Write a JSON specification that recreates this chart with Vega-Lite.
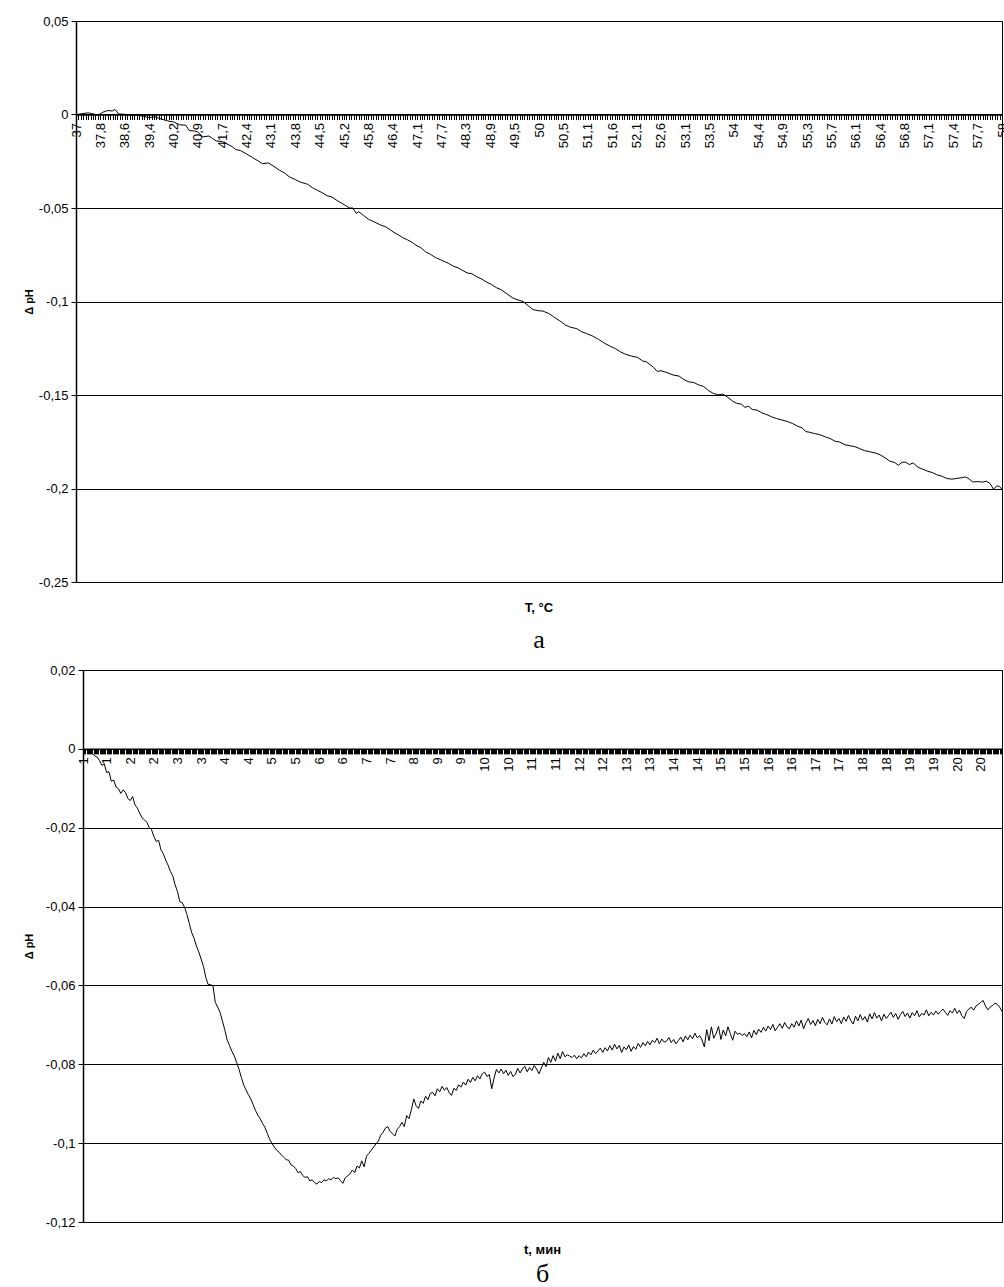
{
  "$schema": "https://vega.github.io/schema/vega-lite/v6.json",
  "padding": {"left": 21, "top": 14, "right": 0, "bottom": 0},
  "background": "white",
  "config": {
    "font": "Liberation Sans",
    "view": {"stroke": "#000", "strokeWidth": 1},
    "axis": {"labelColor": "#000", "titleColor": "#000", "labelFont": "Liberation Sans", "titleFont": "Liberation Sans"}
  },
  "datasets": {
    "none": [],
    "a": [
      {"i":0,"v":0},{"i":0.25,"v":0.0004},{"i":0.5,"v":0.0009},{"i":0.75,"v":0.0002},{"i":0.9,"v":-0.0004},{"i":1.1,"v":0.0012},{"i":1.3,"v":0.0021},{"i":1.5,"v":0.0019},{"i":1.6,"v":0.0027},{"i":1.75,"v":0.0003},
      {"i":2,"v":0.0001},{"i":2.25,"v":-0.0002},{"i":2.5,"v":-0.0004},{"i":2.75,"v":-0.0009},{"i":3,"v":-0.0016},{"i":3.25,"v":-0.0013},{"i":3.5,"v":-0.0024},{"i":3.75,"v":-0.0034},{"i":4,"v":-0.004},{"i":4.25,"v":-0.0055},
      {"i":4.5,"v":-0.0057},{"i":4.65,"v":-0.0086},{"i":4.85,"v":-0.0088},{"i":5,"v":-0.0093},{"i":5.2,"v":-0.012},{"i":5.45,"v":-0.0115},{"i":5.6,"v":-0.0128},{"i":5.75,"v":-0.0141},{"i":6,"v":-0.0145},{"i":6.2,"v":-0.0158},
      {"i":6.4,"v":-0.0171},{"i":6.55,"v":-0.0187},{"i":6.75,"v":-0.0193},{"i":7,"v":-0.0211},{"i":7.25,"v":-0.0231},{"i":7.5,"v":-0.025},{"i":7.65,"v":-0.0263},{"i":7.9,"v":-0.0259},{"i":8.1,"v":-0.0276},{"i":8.35,"v":-0.0298},
      {"i":8.55,"v":-0.0312},{"i":8.75,"v":-0.0333},{"i":9,"v":-0.0348},{"i":9.2,"v":-0.0361},{"i":9.5,"v":-0.0373},{"i":9.7,"v":-0.0391},{"i":9.9,"v":-0.0405},{"i":10.1,"v":-0.0418},{"i":10.3,"v":-0.0434},{"i":10.5,"v":-0.0441},
      {"i":10.7,"v":-0.0459},{"i":10.9,"v":-0.0474},{"i":11.1,"v":-0.049},{"i":11.25,"v":-0.0501},{"i":11.35,"v":-0.0499},{"i":11.5,"v":-0.0529},{"i":11.6,"v":-0.052},{"i":11.8,"v":-0.054},{"i":12,"v":-0.056},{"i":12.25,"v":-0.0575},
      {"i":12.5,"v":-0.0591},{"i":12.7,"v":-0.06},{"i":12.9,"v":-0.0617},{"i":13.05,"v":-0.0631},{"i":13.25,"v":-0.0645},{"i":13.4,"v":-0.0658},{"i":13.6,"v":-0.067},{"i":13.8,"v":-0.0684},{"i":13.95,"v":-0.0699},{"i":14.15,"v":-0.0712},
      {"i":14.35,"v":-0.0735},{"i":14.55,"v":-0.0748},{"i":14.75,"v":-0.0765},{"i":15,"v":-0.0779},{"i":15.3,"v":-0.0797},{"i":15.5,"v":-0.0812},{"i":15.7,"v":-0.0821},{"i":15.85,"v":-0.0833},{"i":16.05,"v":-0.0847},{"i":16.25,"v":-0.0852},
      {"i":16.45,"v":-0.0868},{"i":16.65,"v":-0.088},{"i":16.85,"v":-0.0896},{"i":17.05,"v":-0.0909},{"i":17.25,"v":-0.0926},{"i":17.45,"v":-0.0937},{"i":17.65,"v":-0.0956},{"i":17.9,"v":-0.0979},{"i":18.05,"v":-0.0988},{"i":18.35,"v":-0.1},
      {"i":18.55,"v":-0.1022},{"i":18.75,"v":-0.1043},{"i":18.95,"v":-0.1049},{"i":19.15,"v":-0.1051},{"i":19.4,"v":-0.1064},{"i":19.6,"v":-0.1082},{"i":19.85,"v":-0.1103},{"i":20.1,"v":-0.1127},{"i":20.3,"v":-0.1138},{"i":20.55,"v":-0.1145},
      {"i":20.75,"v":-0.1162},{"i":20.95,"v":-0.1171},{"i":21.2,"v":-0.1185},{"i":21.45,"v":-0.1203},{"i":21.7,"v":-0.1224},{"i":21.95,"v":-0.1241},{"i":22.15,"v":-0.1253},{"i":22.35,"v":-0.127},{"i":22.55,"v":-0.1282},{"i":22.8,"v":-0.1292},
      {"i":23.05,"v":-0.1299},{"i":23.25,"v":-0.1318},{"i":23.4,"v":-0.1322},{"i":23.6,"v":-0.1342},{"i":23.7,"v":-0.1352},{"i":23.85,"v":-0.1374},{"i":24,"v":-0.137},{"i":24.25,"v":-0.138},{"i":24.5,"v":-0.1393},{"i":24.75,"v":-0.1399},
      {"i":24.95,"v":-0.1418},{"i":25.15,"v":-0.143},{"i":25.35,"v":-0.1433},{"i":25.55,"v":-0.1446},{"i":25.75,"v":-0.1454},{"i":25.95,"v":-0.1476},{"i":26.15,"v":-0.1491},{"i":26.35,"v":-0.1499},{"i":26.55,"v":-0.1495},{"i":26.75,"v":-0.1513},
      {"i":26.95,"v":-0.1533},{"i":27.1,"v":-0.1544},{"i":27.3,"v":-0.1549},{"i":27.45,"v":-0.1566},{"i":27.6,"v":-0.156},{"i":27.75,"v":-0.1577},{"i":27.95,"v":-0.1581},{"i":28.15,"v":-0.1596},{"i":28.35,"v":-0.1605},{"i":28.55,"v":-0.1617},
      {"i":28.75,"v":-0.1626},{"i":28.95,"v":-0.1633},{"i":29.2,"v":-0.1642},{"i":29.4,"v":-0.1652},{"i":29.6,"v":-0.1666},{"i":29.8,"v":-0.1676},{"i":29.95,"v":-0.1696},{"i":30.1,"v":-0.1699},{"i":30.3,"v":-0.1706},{"i":30.5,"v":-0.1711},
      {"i":30.75,"v":-0.1724},{"i":30.95,"v":-0.1733},{"i":31.15,"v":-0.1747},{"i":31.35,"v":-0.1752},{"i":31.55,"v":-0.1766},{"i":31.75,"v":-0.1771},{"i":31.95,"v":-0.1776},{"i":32.15,"v":-0.1786},{"i":32.35,"v":-0.1797},{"i":32.55,"v":-0.1803},
      {"i":32.8,"v":-0.181},{"i":33,"v":-0.182},{"i":33.2,"v":-0.1836},{"i":33.4,"v":-0.1854},{"i":33.6,"v":-0.1861},{"i":33.75,"v":-0.1876},{"i":33.9,"v":-0.1859},{"i":34.05,"v":-0.186},{"i":34.2,"v":-0.1872},{"i":34.35,"v":-0.1863},
      {"i":34.55,"v":-0.1886},{"i":34.75,"v":-0.1897},{"i":34.95,"v":-0.1908},{"i":35.15,"v":-0.1915},{"i":35.35,"v":-0.1928},{"i":35.55,"v":-0.1935},{"i":35.75,"v":-0.1947},{"i":35.95,"v":-0.195},{"i":36.15,"v":-0.1946},{"i":36.35,"v":-0.1942},
      {"i":36.5,"v":-0.1938},{"i":36.65,"v":-0.1949},{"i":36.8,"v":-0.1965},{"i":37,"v":-0.1963},{"i":37.2,"v":-0.1966},{"i":37.35,"v":-0.1961},{"i":37.5,"v":-0.1972},{"i":37.65,"v":-0.2004},{"i":37.8,"v":-0.1985},{"i":37.9,"v":-0.199},{"i":38,"v":-0.2004}
    ],
    "b": [
      {"i":0,"v":0},{"i":0.1,"v":-0.0003},{"i":0.2,"v":-0.0002},{"i":0.3,"v":-0.0008},{"i":0.4,"v":-0.0012},{"i":0.5,"v":-0.0018},{"i":0.6,"v":-0.0021},{"i":0.7,"v":-0.003},{"i":0.8,"v":-0.0042},{"i":0.9,"v":-0.0038},
      {"i":1,"v":-0.006},{"i":1.1,"v":-0.0058},{"i":1.2,"v":-0.0082},{"i":1.3,"v":-0.0079},{"i":1.4,"v":-0.0097},{"i":1.5,"v":-0.0101},{"i":1.6,"v":-0.0113},{"i":1.7,"v":-0.0104},{"i":1.8,"v":-0.0111},{"i":1.9,"v":-0.0126},
      {"i":2,"v":-0.0131},{"i":2.1,"v":-0.0121},{"i":2.2,"v":-0.0142},{"i":2.3,"v":-0.015},{"i":2.4,"v":-0.0163},{"i":2.5,"v":-0.0175},{"i":2.6,"v":-0.018},{"i":2.7,"v":-0.0186},{"i":2.8,"v":-0.0199},{"i":2.9,"v":-0.0205},
      {"i":3,"v":-0.0222},{"i":3.1,"v":-0.0235},{"i":3.2,"v":-0.0232},{"i":3.3,"v":-0.0256},{"i":3.4,"v":-0.0266},{"i":3.5,"v":-0.0282},{"i":3.6,"v":-0.0295},{"i":3.7,"v":-0.0311},{"i":3.8,"v":-0.0322},{"i":3.9,"v":-0.0345},
      {"i":4,"v":-0.0362},{"i":4.1,"v":-0.0388},{"i":4.2,"v":-0.039},{"i":4.3,"v":-0.0402},{"i":4.4,"v":-0.042},{"i":4.5,"v":-0.0443},{"i":4.6,"v":-0.0466},{"i":4.7,"v":-0.048},{"i":4.8,"v":-0.05},{"i":4.9,"v":-0.0515},
      {"i":5,"v":-0.0533},{"i":5.1,"v":-0.0552},{"i":5.2,"v":-0.058},{"i":5.3,"v":-0.0598},{"i":5.4,"v":-0.0598},{"i":5.5,"v":-0.0601},{"i":5.6,"v":-0.0643},{"i":5.7,"v":-0.0655},{"i":5.8,"v":-0.0668},{"i":5.9,"v":-0.069},
      {"i":6,"v":-0.0712},{"i":6.1,"v":-0.0738},{"i":6.2,"v":-0.0752},{"i":6.3,"v":-0.0767},{"i":6.4,"v":-0.0778},{"i":6.5,"v":-0.0795},{"i":6.6,"v":-0.0812},{"i":6.7,"v":-0.0833},{"i":6.8,"v":-0.0852},{"i":6.9,"v":-0.0865},
      {"i":7,"v":-0.0877},{"i":7.1,"v":-0.0888},{"i":7.2,"v":-0.0902},{"i":7.3,"v":-0.0917},{"i":7.4,"v":-0.0929},{"i":7.5,"v":-0.0938},{"i":7.6,"v":-0.095},{"i":7.7,"v":-0.096},{"i":7.8,"v":-0.0975},{"i":7.9,"v":-0.099},
      {"i":8,"v":-0.1001},{"i":8.1,"v":-0.101},{"i":8.2,"v":-0.1018},{"i":8.3,"v":-0.1023},{"i":8.4,"v":-0.103},{"i":8.5,"v":-0.1036},{"i":8.6,"v":-0.1042},{"i":8.7,"v":-0.1043},{"i":8.8,"v":-0.1055},{"i":8.9,"v":-0.1058},
      {"i":9,"v":-0.1064},{"i":9.1,"v":-0.1075},{"i":9.2,"v":-0.1072},{"i":9.3,"v":-0.1082},{"i":9.4,"v":-0.1087},{"i":9.5,"v":-0.1085},{"i":9.6,"v":-0.1096},{"i":9.7,"v":-0.1093},{"i":9.8,"v":-0.11},{"i":9.9,"v":-0.1104},
      {"i":10,"v":-0.1097},{"i":10.1,"v":-0.11},{"i":10.2,"v":-0.1093},{"i":10.3,"v":-0.1096},{"i":10.4,"v":-0.109},{"i":10.5,"v":-0.1093},{"i":10.6,"v":-0.1087},{"i":10.7,"v":-0.109},{"i":10.8,"v":-0.1088},{"i":10.9,"v":-0.1095},
      {"i":11,"v":-0.1102},{"i":11.1,"v":-0.1088},{"i":11.2,"v":-0.1083},{"i":11.3,"v":-0.1078},{"i":11.4,"v":-0.1068},{"i":11.5,"v":-0.1075},{"i":11.6,"v":-0.1058},{"i":11.7,"v":-0.1063},{"i":11.8,"v":-0.1045},{"i":11.9,"v":-0.106},
      {"i":12,"v":-0.1033},{"i":12.1,"v":-0.1026},{"i":12.2,"v":-0.1018},{"i":12.3,"v":-0.101},{"i":12.4,"v":-0.1002},{"i":12.5,"v":-0.0995},{"i":12.6,"v":-0.098},{"i":12.7,"v":-0.0973},{"i":12.8,"v":-0.0962},{"i":12.9,"v":-0.0958},
      {"i":13,"v":-0.097},{"i":13.1,"v":-0.0976},{"i":13.2,"v":-0.0982},{"i":13.3,"v":-0.0965},{"i":13.4,"v":-0.0958},{"i":13.5,"v":-0.0947},{"i":13.6,"v":-0.0958},{"i":13.7,"v":-0.093},{"i":13.8,"v":-0.0938},{"i":13.9,"v":-0.0915},
      {"i":14,"v":-0.0888},{"i":14.1,"v":-0.0905},{"i":14.2,"v":-0.0912},{"i":14.3,"v":-0.0893},{"i":14.4,"v":-0.0899},{"i":14.5,"v":-0.0881},{"i":14.6,"v":-0.089},{"i":14.7,"v":-0.0874},{"i":14.8,"v":-0.0871},{"i":14.9,"v":-0.088},
      {"i":15,"v":-0.0862},{"i":15.1,"v":-0.087},{"i":15.2,"v":-0.0856},{"i":15.3,"v":-0.0866},{"i":15.4,"v":-0.0859},{"i":15.5,"v":-0.0872},{"i":15.6,"v":-0.0879},{"i":15.7,"v":-0.0861},{"i":15.8,"v":-0.0866},{"i":15.9,"v":-0.0852},
      {"i":16,"v":-0.0858},{"i":16.1,"v":-0.0845},{"i":16.2,"v":-0.0853},{"i":16.3,"v":-0.0838},{"i":16.4,"v":-0.0846},{"i":16.5,"v":-0.0833},{"i":16.6,"v":-0.0842},{"i":16.7,"v":-0.0829},{"i":16.8,"v":-0.0837},{"i":16.9,"v":-0.0824},
      {"i":17,"v":-0.082},{"i":17.1,"v":-0.0831},{"i":17.2,"v":-0.0826},{"i":17.3,"v":-0.0862},{"i":17.4,"v":-0.0835},{"i":17.5,"v":-0.0813},{"i":17.6,"v":-0.0822},{"i":17.7,"v":-0.0812},{"i":17.8,"v":-0.0824},{"i":17.9,"v":-0.0815},
      {"i":18,"v":-0.0828},{"i":18.1,"v":-0.0818},{"i":18.2,"v":-0.0831},{"i":18.3,"v":-0.0826},{"i":18.4,"v":-0.081},{"i":18.5,"v":-0.0822},{"i":18.6,"v":-0.0812},{"i":18.7,"v":-0.0805},{"i":18.8,"v":-0.0819},{"i":18.9,"v":-0.0808},
      {"i":19,"v":-0.0816},{"i":19.1,"v":-0.0803},{"i":19.2,"v":-0.0812},{"i":19.3,"v":-0.0824},{"i":19.4,"v":-0.081},{"i":19.5,"v":-0.0795},{"i":19.6,"v":-0.0806},{"i":19.7,"v":-0.0783},{"i":19.8,"v":-0.0795},{"i":19.9,"v":-0.0778},
      {"i":20,"v":-0.0792},{"i":20.1,"v":-0.0772},{"i":20.2,"v":-0.0786},{"i":20.3,"v":-0.0768},{"i":20.4,"v":-0.0781},{"i":20.5,"v":-0.0776},{"i":20.6,"v":-0.0779},{"i":20.7,"v":-0.0783},{"i":20.8,"v":-0.0777},{"i":20.9,"v":-0.0786},
      {"i":21,"v":-0.0778},{"i":21.1,"v":-0.0784},{"i":21.2,"v":-0.0773},{"i":21.3,"v":-0.0781},{"i":21.4,"v":-0.0769},{"i":21.5,"v":-0.0776},{"i":21.6,"v":-0.0764},{"i":21.7,"v":-0.0773},{"i":21.8,"v":-0.0766},{"i":21.9,"v":-0.0759},
      {"i":22,"v":-0.077},{"i":22.1,"v":-0.0758},{"i":22.2,"v":-0.0766},{"i":22.3,"v":-0.0753},{"i":22.4,"v":-0.0764},{"i":22.5,"v":-0.0749},{"i":22.6,"v":-0.0761},{"i":22.7,"v":-0.0752},{"i":22.8,"v":-0.077},{"i":22.9,"v":-0.0756},
      {"i":23,"v":-0.0763},{"i":23.1,"v":-0.0751},{"i":23.2,"v":-0.0767},{"i":23.3,"v":-0.0755},{"i":23.4,"v":-0.0762},{"i":23.5,"v":-0.0747},{"i":23.6,"v":-0.0757},{"i":23.7,"v":-0.0745},{"i":23.8,"v":-0.0753},{"i":23.9,"v":-0.0742},
      {"i":24,"v":-0.0751},{"i":24.1,"v":-0.0739},{"i":24.2,"v":-0.0745},{"i":24.3,"v":-0.0734},{"i":24.4,"v":-0.0748},{"i":24.5,"v":-0.0736},{"i":24.6,"v":-0.0744},{"i":24.7,"v":-0.0741},{"i":24.8,"v":-0.0732},{"i":24.9,"v":-0.0745},
      {"i":25,"v":-0.0737},{"i":25.1,"v":-0.0748},{"i":25.2,"v":-0.074},{"i":25.3,"v":-0.0731},{"i":25.4,"v":-0.0743},{"i":25.5,"v":-0.0728},{"i":25.6,"v":-0.0738},{"i":25.7,"v":-0.0726},{"i":25.8,"v":-0.0735},{"i":25.9,"v":-0.0721},
      {"i":26,"v":-0.0733},{"i":26.1,"v":-0.0727},{"i":26.2,"v":-0.0738},{"i":26.3,"v":-0.0756},{"i":26.4,"v":-0.0712},{"i":26.5,"v":-0.074},{"i":26.6,"v":-0.0705},{"i":26.7,"v":-0.0734},{"i":26.8,"v":-0.0722},{"i":26.9,"v":-0.0704},
      {"i":27,"v":-0.0737},{"i":27.1,"v":-0.0713},{"i":27.2,"v":-0.0728},{"i":27.3,"v":-0.0705},{"i":27.4,"v":-0.0722},{"i":27.5,"v":-0.0739},{"i":27.6,"v":-0.0716},{"i":27.7,"v":-0.0724},{"i":27.8,"v":-0.0721},{"i":27.9,"v":-0.0727},
      {"i":28,"v":-0.0722},{"i":28.1,"v":-0.073},{"i":28.2,"v":-0.0718},{"i":28.3,"v":-0.0733},{"i":28.4,"v":-0.0714},{"i":28.5,"v":-0.0725},{"i":28.6,"v":-0.0711},{"i":28.7,"v":-0.0719},{"i":28.8,"v":-0.0706},{"i":28.9,"v":-0.0716},
      {"i":29,"v":-0.0703},{"i":29.1,"v":-0.0712},{"i":29.2,"v":-0.0699},{"i":29.3,"v":-0.0715},{"i":29.4,"v":-0.0706},{"i":29.5,"v":-0.0697},{"i":29.6,"v":-0.0709},{"i":29.7,"v":-0.0694},{"i":29.8,"v":-0.0705},{"i":29.9,"v":-0.071},
      {"i":30,"v":-0.0697},{"i":30.1,"v":-0.0706},{"i":30.2,"v":-0.069},{"i":30.3,"v":-0.0703},{"i":30.4,"v":-0.0688},{"i":30.5,"v":-0.071},{"i":30.6,"v":-0.0695},{"i":30.7,"v":-0.0684},{"i":30.8,"v":-0.0699},{"i":30.9,"v":-0.0689},
      {"i":31,"v":-0.0702},{"i":31.1,"v":-0.0686},{"i":31.2,"v":-0.0697},{"i":31.3,"v":-0.0681},{"i":31.4,"v":-0.0694},{"i":31.5,"v":-0.07},{"i":31.6,"v":-0.0685},{"i":31.7,"v":-0.0698},{"i":31.8,"v":-0.0679},{"i":31.9,"v":-0.0692},
      {"i":32,"v":-0.0684},{"i":32.1,"v":-0.0697},{"i":32.2,"v":-0.068},{"i":32.3,"v":-0.0691},{"i":32.4,"v":-0.0676},{"i":32.5,"v":-0.0689},{"i":32.6,"v":-0.0698},{"i":32.7,"v":-0.0678},{"i":32.8,"v":-0.069},{"i":32.9,"v":-0.0674},
      {"i":33,"v":-0.0688},{"i":33.1,"v":-0.0679},{"i":33.2,"v":-0.0693},{"i":33.3,"v":-0.0672},{"i":33.4,"v":-0.0685},{"i":33.5,"v":-0.0669},{"i":33.6,"v":-0.0683},{"i":33.7,"v":-0.0675},{"i":33.8,"v":-0.069},{"i":33.9,"v":-0.0673},
      {"i":34,"v":-0.0684},{"i":34.1,"v":-0.0676},{"i":34.2,"v":-0.0668},{"i":34.3,"v":-0.0681},{"i":34.4,"v":-0.0671},{"i":34.5,"v":-0.0686},{"i":34.6,"v":-0.0674},{"i":34.7,"v":-0.0666},{"i":34.8,"v":-0.0679},{"i":34.9,"v":-0.067},
      {"i":35,"v":-0.0683},{"i":35.1,"v":-0.0669},{"i":35.2,"v":-0.0677},{"i":35.3,"v":-0.0664},{"i":35.4,"v":-0.068},{"i":35.5,"v":-0.0671},{"i":35.6,"v":-0.0675},{"i":35.7,"v":-0.0662},{"i":35.8,"v":-0.0677},{"i":35.9,"v":-0.0668},
      {"i":36,"v":-0.0675},{"i":36.1,"v":-0.0665},{"i":36.2,"v":-0.0673},{"i":36.3,"v":-0.0666},{"i":36.4,"v":-0.066},{"i":36.5,"v":-0.0668},{"i":36.6,"v":-0.0676},{"i":36.7,"v":-0.0664},{"i":36.8,"v":-0.067},{"i":36.9,"v":-0.0658},
      {"i":37,"v":-0.0671},{"i":37.1,"v":-0.0663},{"i":37.2,"v":-0.0677},{"i":37.3,"v":-0.0684},{"i":37.4,"v":-0.0666},{"i":37.5,"v":-0.066},{"i":37.6,"v":-0.0655},{"i":37.7,"v":-0.0663},{"i":37.8,"v":-0.0652},{"i":37.9,"v":-0.0648},
      {"i":38,"v":-0.0643},{"i":38.1,"v":-0.0638},{"i":38.2,"v":-0.0652},{"i":38.3,"v":-0.0662},{"i":38.4,"v":-0.0655},{"i":38.5,"v":-0.0651},{"i":38.6,"v":-0.0645},{"i":38.7,"v":-0.0648},{"i":38.8,"v":-0.0655},{"i":38.9,"v":-0.0666}
    ]
  },
  "vconcat": [
    {"hconcat": [
      {"width": 1, "height": 1, "data": {"name": "none"}, "view": {"stroke": null}, "mark": "point", "encoding": {}},
      {
        "width": 926,
        "height": 561,
        "data": {"name": "a"},
        "title": {"text": "T, °C", "subtitle": "а", "orient": "bottom", "frame": "group", "anchor": "middle", "font": "Liberation Sans", "fontWeight": "bold", "fontSize": 13, "color": "#000", "subtitleFont": "Liberation Serif", "subtitleFontSize": 26, "subtitleColor": "#000", "offset": 13, "subtitlePadding": 12},
        "mark": {"type": "line", "color": "#000", "strokeWidth": 1, "clip": true},
        "encoding": {
          "x": {"field": "i", "type": "quantitative", "scale": {"domain": [0, 38], "nice": false, "zero": false},
            "axis": {"title": null, "offset": -467.5, "tickCount": 380, "grid": false, "domainColor": "#000", "domainWidth": 1.5, "tickColor": "#000", "tickSize": 5, "tickWidth": 1, "labelAngle": -90, "labelOverlap": false, "labelFontSize": 13, "labelPadding": 3,
              "labelExpr": "(datum.value % 1 === 0) ? ['37','37,8','38,6','39,4','40,2','40,9','41,7','42,4','43,1','43,8','44,5','45,2','45,8','46,4','47,1','47,7','48,3','48,9','49,5','50','50,5','51,1','51,6','52,1','52,6','53,1','53,5','54','54,4','54,9','55,3','55,7','56,1','56,4','56,8','57,1','57,4','57,7','58'][datum.value] : ''"}},
          "y": {"field": "v", "type": "quantitative", "scale": {"domain": [-0.25, 0.05], "nice": false, "zero": false},
            "axis": {"title": "Δ pH", "titleFontSize": 11, "titleFontWeight": "bold", "titlePadding": 4, "values": [0.05, 0, -0.05, -0.1, -0.15, -0.2, -0.25], "grid": true, "gridColor": "#000", "gridOpacity": 1, "gridWidth": 1, "domainColor": "#000", "domainWidth": 1.5, "tickColor": "#000", "tickSize": 5, "labelFontSize": 13, "labelPadding": 3,
              "labelExpr": "replace(toString(datum.value), '.', ',')"}}
        }
      }
    ], "spacing": 0},
    {"hconcat": [
      {"width": 1, "height": 1, "data": {"name": "none"}, "view": {"stroke": null}, "mark": "point", "encoding": {}},
      {
        "width": 919,
        "height": 552,
        "data": {"name": "b"},
        "title": {"text": "t, мин", "subtitle": "б", "orient": "bottom", "frame": "group", "anchor": "middle", "font": "Liberation Sans", "fontWeight": "bold", "fontSize": 13, "color": "#000", "subtitleFont": "Liberation Serif", "subtitleFontSize": 26, "subtitleColor": "#000", "offset": 15, "subtitlePadding": 4},
        "mark": {"type": "line", "color": "#000", "strokeWidth": 1, "clip": true},
        "encoding": {
          "x": {"field": "i", "type": "quantitative", "scale": {"domain": [0, 38.9], "nice": false, "zero": false},
            "axis": {"title": null, "offset": -473.14, "tickCount": 778, "grid": false, "domainColor": "#000", "domainWidth": 1.5, "tickColor": "#000", "tickSize": 5, "tickWidth": 1, "labelAngle": -90, "labelOverlap": false, "labelFontSize": 13, "labelPadding": 3,
              "labelExpr": "(datum.value % 1 === 0) ? ['1','1','2','2','3','3','4','4','5','5','6','6','7','7','8','9','9','10','10','11','11','12','12','13','13','14','14','15','15','16','16','17','17','18','18','19','19','20','20'][datum.value] : ''"}},
          "y": {"field": "v", "type": "quantitative", "scale": {"domain": [-0.12, 0.02], "nice": false, "zero": false},
            "axis": {"title": "Δ pH", "titleFontSize": 11, "titleFontWeight": "bold", "titlePadding": 11, "values": [0.02, 0, -0.02, -0.04, -0.06, -0.08, -0.1, -0.12], "grid": true, "gridColor": "#000", "gridOpacity": 1, "gridWidth": 1, "domainColor": "#000", "domainWidth": 1.5, "tickColor": "#000", "tickSize": 5, "labelFontSize": 13, "labelPadding": 3,
              "labelExpr": "replace(toString(datum.value), '.', ',')"}}
        }
      }
    ], "spacing": 0}
  ],
  "spacing": 9
}
